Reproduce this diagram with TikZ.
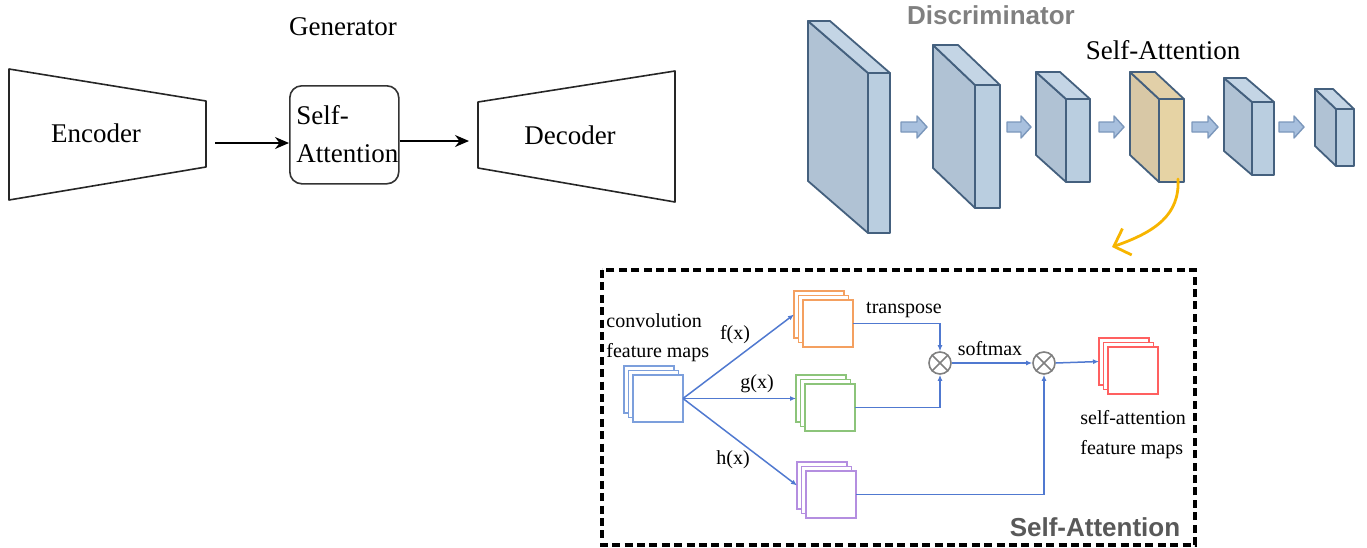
\documentclass[tikz,border=0pt]{standalone}
\usepackage{fontspec}
\setmainfont{Liberation Serif}
\newfontfamily\arialfont{Liberation Sans}
\usetikzlibrary{arrows.meta}
\definecolor{bdr}{HTML}{44607E}
\definecolor{bside}{HTML}{B0C2D4}
\definecolor{bfront}{HTML}{BACEE0}
\definecolor{btop}{HTML}{C4D5E5}
\definecolor{yside}{HTML}{D8C8A6}
\definecolor{yfront}{HTML}{E6D3A4}
\definecolor{ytop}{HTML}{E2D0A8}
\definecolor{arfill}{HTML}{A8C0DE}
\definecolor{ardraw}{HTML}{7B97BB}
\definecolor{lineblue}{HTML}{5079D0}
\definecolor{cinc}{HTML}{7C9FDC}
\definecolor{orc}{HTML}{F4A060}
\definecolor{grc}{HTML}{8CC47A}
\definecolor{puc}{HTML}{B48EE0}
\definecolor{rdc}{HTML}{FF6060}
\definecolor{curvey}{HTML}{F7B500}
\newcommand\dblock[9]{%
  \filldraw[fill=#7,draw=bdr,line width=0.9pt,line join=round] (#1,#2) -- ({#1+#5},{#2+#6}) -- ({#1+#5},{#4+#6}) -- (#1,#4) -- cycle;
  \filldraw[fill=#9,draw=bdr,line width=0.9pt,line join=round] (#1,#2) -- ({#1+#5},{#2+#6}) -- ({#3+#5},{#2+#6}) -- (#3,#2) -- cycle;
  \filldraw[fill=#8,draw=bdr,line width=0.9pt,line join=round] (#1,#2) rectangle (#3,#4);
}
\newcommand\blkarrow[2]{%
  \filldraw[fill=arfill,draw=ardraw,line width=0.7pt,line join=round] (#1,122) -- ({#2-10},122) -- ({#2-10},116) -- (#2,127) -- ({#2-10},138) -- ({#2-10},132) -- (#1,132) -- cycle;
}
\newcommand\fmstack[4]{%
  \node[fm,draw=#4] (#1b) at ({#2-9},{#3-9}) {};
  \node[fm,draw=#4] (#1m) at ({#2-4.5},{#3-4.5}) {};
  \node[fm,draw=#4] (#1) at (#2,#3) {};
}
\begin{document}
\begin{tikzpicture}[x=0.5pt,y=-0.5pt,
  big/.style={font=\fontsize{13.5}{19}\selectfont},
  small/.style={font=\fontsize{10}{15}\selectfont},
  trap/.style={draw=black!85,line width=0.8pt,line join=round},
  blk/.style={-{Stealth[length=7pt,width=6pt]},line width=0.8pt,black},
  fm/.style={anchor=north west,minimum width=25pt,minimum height=23.5pt,fill=white,inner sep=0pt,outer sep=0pt,line width=0.6pt},
  bl/.style={draw=lineblue,line width=0.75pt,-{Latex[length=3pt,width=2.5pt]}},
  mul/.style={circle,draw=black!50,fill=white,line width=0.8pt,minimum size=11pt,inner sep=0pt}]
\useasboundingbox (0,0) rectangle (1367,547);

% ---------------- Generator ----------------
\node[big] (gen) at (343,27) {Generator};
\draw[trap] (9,69) -- (206,101) -- (206,167) -- (9,200) -- cycle;
\node[big] (enc) at (96,133) {Encoder};
\coordinate (encR) at (215,143);
\node[draw=black!80,line width=0.8pt,rounded corners=6pt,minimum width=54.5pt,minimum height=49pt,anchor=north west,inner sep=0pt] (sab) at (289,85) {};
\node[big,align=left,anchor=west,inner sep=0pt] (sat) at (296,134) {Self-\\Attention};
\draw[trap] (478,102) -- (675,71) -- (675,202) -- (478,168) -- cycle;
\node[big] (dec) at (570,135) {Decoder};
\coordinate (decL) at (469,141);
\draw[blk] (encR) -- (sab.west |- encR);
\draw[blk] (sab.east |- decL) -- (decL);

% ---------------- Discriminator ----------------
\node[font=\arialfont\bfseries\fontsize{13}{15}\selectfont,text=black!50] (disc) at (991,15) {Discriminator};
\dblock{868}{73}{890}{233}{-60}{-52}{bside}{bfront}{btop}
\dblock{975}{85}{1000}{208}{-42}{-40}{bside}{bfront}{btop}
\dblock{1066}{99}{1090}{182}{-30}{-27}{bside}{bfront}{btop}
\dblock{1159}{99}{1184}{182}{-29}{-27}{yside}{yfront}{ytop}
\dblock{1252}{102}{1274}{175}{-28}{-24}{bside}{bfront}{btop}
\dblock{1336}{109}{1354}{166}{-21}{-20}{bside}{bfront}{btop}
\blkarrow{901}{927}
\blkarrow{1007}{1031}
\blkarrow{1099}{1124}
\blkarrow{1192}{1218}
\blkarrow{1279}{1304}
\node[big] (dsa) at (1163,50) {Self-Attention};
\coordinate (ysa) at (1178,179);
\coordinate (yend) at (1112,247);
\draw[curvey,line width=1.4pt,line cap=round,-{Straight Barb[length=7pt,width=14pt]}] (ysa) .. controls (1180,215) and (1155,232) .. (yend);

% ---------------- Self-Attention detail ----------------
\draw[black,line width=1.6pt,dash pattern=on 4pt off 2.2pt] (602,270) rectangle (1195,545);
\node[font=\arialfont\bfseries\fontsize{13}{15}\selectfont,text=black!65] (salab) at (1095,527) {Self-Attention};

\fmstack{cin}{633}{375}{cinc}
\fmstack{fx}{803}{300}{orc}
\fmstack{gx}{805}{384}{grc}
\fmstack{hx}{806}{471}{puc}
\fmstack{ra}{1108}{347}{rdc}

\node[small,align=left,anchor=west,inner sep=0pt] (conv) at (606,338) {convolution\\feature maps};
\node[small] (flab) at (735,335) {f(x)};
\node[small] (glab) at (757,384) {g(x)};
\node[small] (hlab) at (733,460) {h(x)};
\node[small] (tlab) at (904,310) {transpose};
\node[small] (slab) at (990,349) {softmax};
\node[small,align=left,anchor=west,inner sep=0pt] (salab2) at (1080,435) {self-attention\\feature maps};

\node[mul] (m1) at (940,363) {};
\node[mul] (m2) at (1044,363) {};
\foreach \m in {m1,m2}{
  \draw[black!50,line width=0.8pt] (\m.north east) -- (\m.south west) (\m.north west) -- (\m.south east);
}

\draw[bl] (cin.east) -- (fxb.west);
\draw[bl] (cin.east) -- (gxb.west);
\draw[bl] (cin.east) -- (hxb.west);
\draw[bl] (fx.east) -| (m1.north);
\draw[bl] (gx.east) -| (m1.south);
\draw[bl] (m1.east) -- (m2.west);
\draw[bl] (hx.east) -| (m2.south);
\draw[bl] (m2.east) -- (rab.west);
\end{tikzpicture}
\end{document}
